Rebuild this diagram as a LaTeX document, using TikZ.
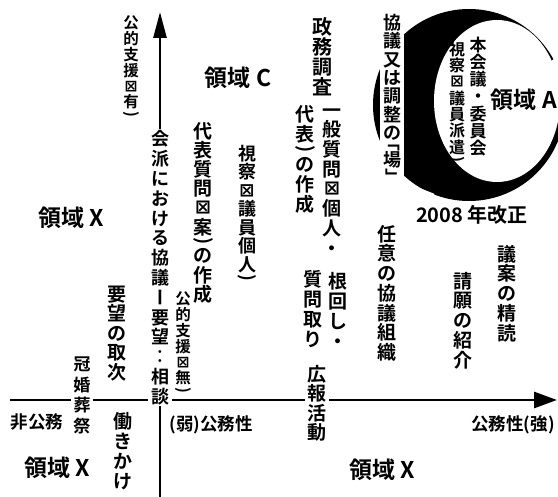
\documentclass[tikz,border=0pt]{standalone}
\usepackage{fontspec}
\setmainfont{Noto Sans CJK JP}[BoldFont=* Bold]
\newfontfamily\dejavu{DejaVu Sans Bold}
\usepackage{graphicx}
\usetikzlibrary{arrows.meta}

\makeatletter
\newdimen\vt@pd
\newcommand\vt@strut{\vrule height .88em depth .12em width\z@}
\def\vt@full#1{\vbox to \vt@pd{\vss\hbox to 1.3em{\hss#1\hss}\vss}}
\def\vt@half#1{\vbox to .5\vt@pd{\vss\hbox to 1.3em{\hss#1\hss}\vss}}
\newcommand\VT[3]{\vbox{\offinterlineskip\fontsize{#1pt}{#2pt}\selectfont\vt@pd=#2pt\relax
  \@tfor\vt@c:=#3\do{\expandafter\vt@cell\vt@c\@nil}}}
\def\vt@cell#1\@nil{%
  \in@{#1}{()}%
  \ifin@\vt@half{\rotatebox{-90}{#1}}%
  \else\in@{#1}{「}%
   \ifin@\vt@half{\rotatebox{-90}{\makebox[.55em][r]{\makebox[0pt][r]{#1}}}}%
   \else\in@{#1}{」}%
    \ifin@\vt@half{\rotatebox{-90}{\makebox[.55em][l]{\makebox[0pt][l]{#1}}}}%
    \else\in@{#1}{ー‥}%
     \ifin@\vt@full{\rotatebox{-90}{\vt@strut#1}}%
     \else\in@{#1}{⊠}%
      \ifin@\vt@full{\dejavu #1}%
      \else\vt@full{\vt@strut#1}%
  \fi\fi\fi\fi\fi}
\makeatother

\tikzset{
  vt/.style={anchor=north, inner sep=0pt},
  wbg/.style={fill=white},
  lbl/.style={inner sep=0pt, font=\bfseries\fontsize{23pt}{23pt}\selectfont},
  sm/.style={inner sep=0pt, font=\bfseries\fontsize{17.5pt}{17.5pt}\selectfont},
  yr/.style={inner sep=0pt, font=\bfseries\fontsize{20pt}{20pt}\selectfont},
  ax/.style={line width=2.8pt},
  every node/.append style={font=\bfseries},
}

\begin{document}
\bfseries
\begin{tikzpicture}[x=1pt,y=-1pt]
\useasboundingbox (0,0) rectangle (558,497);
\fill[white] (0,0) rectangle (558,497);
% ring (enso)
\fill[black] (469,105) circle[radius=96pt];
\fill[white] (497,101) ellipse[x radius=63pt, y radius=81pt];
\fill[white] (547,64) -- (580,40) -- (580,95) -- (557,95) -- cycle;
\draw[white,line width=2.5pt] (406,184) -- (434,195);
% axes
\coordinate (h0) at (10,400);
\coordinate (h1) at (557,400);
\coordinate (v0) at (160,497);
\coordinate (v1) at (160,12);
\draw[ax,-{Triangle[length=23pt,width=16pt]}] (h0) -- (h1);
\draw[ax,-{Triangle[length=26pt,width=13pt]}] (v0) -- (v1);
% vertical texts
\node[vt] (a) at (131,15) {\VT{15.5}{15.8}{公的支援⊠有)}};
\node[vt,wbg] (b) at (160,129) {\VT{18}{19.8}{会派における協議ー要望‥相談}};
\node[vt] (c) at (203,121) {\VT{19}{19.2}{代表質問⊠案)の作成}};
\node[vt] (d) at (247,144) {\VT{18}{18.5}{視察⊠議員個人)}};
\node[vt] (e) at (322,17) {\VT{20}{20}{政務調査}};
\node[vt] (f) at (305,104) {\VT{19}{20}{代表)の作成}};
\node[vt] (g) at (332,100) {\VT{19}{19.7}{一般質問⊠個人・}};
\node[vt] (h) at (338,271) {\VT{19}{20}{根回し・}};
\node[vt] (i) at (313,269) {\VT{19}{20}{質問取り}};
\node[vt,wbg] (j) at (317,364) {\VT{19}{19.5}{広報活動}};
\node[vt] (k) at (387,224) {\VT{19}{19.7}{任意の協議組織}};
\node[vt] (l) at (463,271) {\VT{19}{19.7}{請願の紹介}};
\node[vt] (m) at (507,244) {\VT{19}{19.7}{議案の精読}};
\node[vt] (n) at (117,284) {\VT{19}{19.5}{要望の取次}};
\node[vt,wbg] (o) at (82,354) {\VT{17}{20.5}{冠婚葬祭}};
\node[vt] (p) at (123,411) {\VT{19}{20}{働きかけ}};
\node[vt] (q) at (183,291) {\VT{15.5}{15.8}{公的支援⊠無)}};
\node[vt] (r) at (457,41) {\VT{16}{16.3}{視察⊠議員派遣)}};
\node[vt] (s) at (478,36) {\VT{17}{17.2}{本会議・委員会}};
\node[vt,fill=white,inner sep=0.5pt] (t) at (392,13) {\VT{18}{18.3}{協議又は調整の「場」}};
% horizontal texts
\node[lbl] (rc) at (238,78) {領域 C};
\node[lbl] (rx1) at (71,218) {領域 X};
\node[lbl] (rx2) at (57,468) {領域 X};
\node[lbl] (rx3) at (382,470) {領域 X};
\node[lbl,anchor=east] (ra) at (557,100) {領域 A};
\node[sm] (hk) at (37,422) {非公務};
\node[sm] (jk) at (211,425) {(弱)公務性};
\node[sm] (kk) at (513,425) {公務性(強)};
\node[yr] (yr) at (472,215) {2008 年改正};
\end{tikzpicture}
\end{document}
